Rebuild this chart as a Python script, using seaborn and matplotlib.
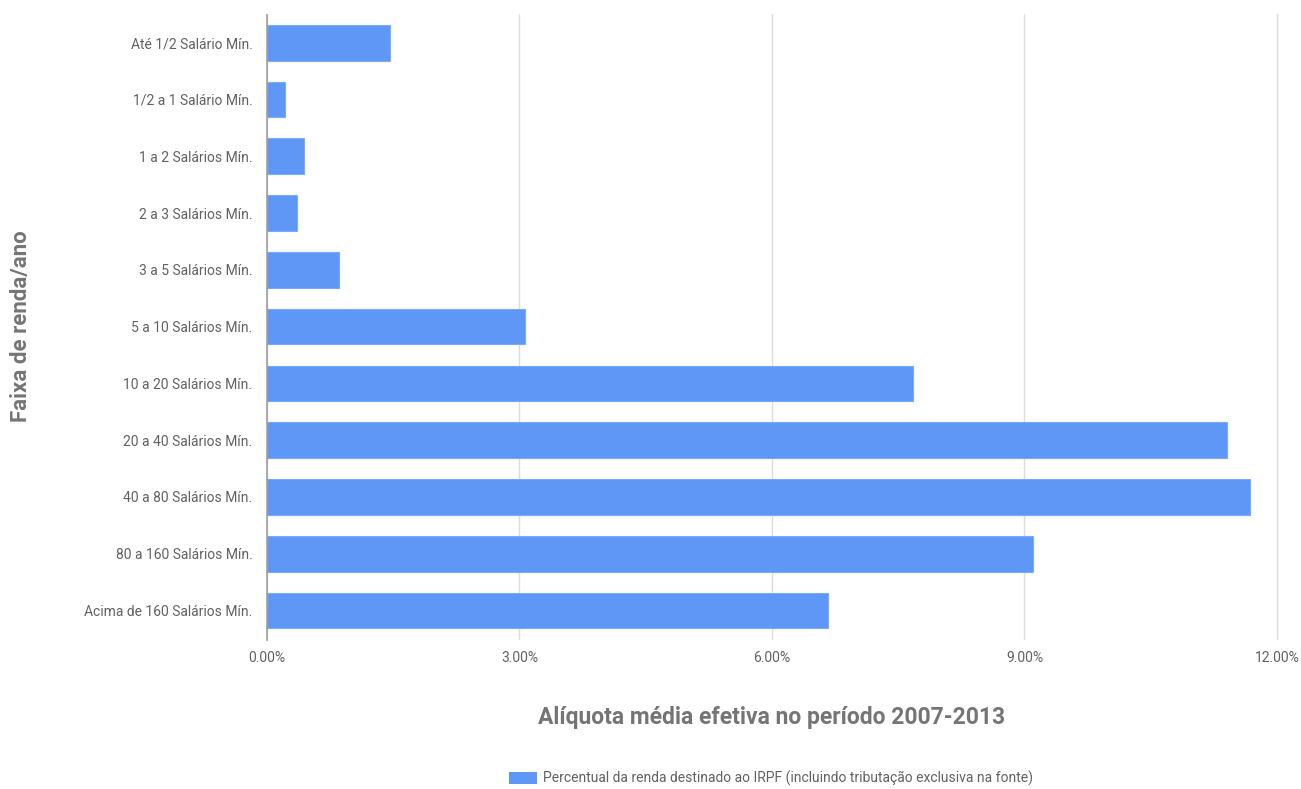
import matplotlib
matplotlib.use("Agg")
import matplotlib.pyplot as plt
import seaborn as sns
import pandas as pd
from matplotlib.patches import Patch
from matplotlib.ticker import FuncFormatter

faixas = [
    "Até 1/2 Salário Mín.",
    "1/2 a 1 Salário Mín.",
    "1 a 2 Salários Mín.",
    "2 a 3 Salários Mín.",
    "3 a 5 Salários Mín.",
    "5 a 10 Salários Mín.",
    "10 a 20 Salários Mín.",
    "20 a 40 Salários Mín.",
    "40 a 80 Salários Mín.",
    "80 a 160 Salários Mín.",
    "Acima de 160 Salários Mín.",
]
aliquota = [1.46, 0.22, 0.44, 0.36, 0.85, 3.07, 7.68, 11.41, 11.68, 9.10, 6.67]
x_ticks = [0, 3, 6, 9, 12]
serie = "Percentual da renda destinado ao IRPF (incluindo tributação exclusiva na fonte)"

sns.set_theme(style="white")
plt.rcParams["font.family"] = ["Roboto", "DejaVu Sans"]

df = pd.DataFrame({"faixa": faixas, "aliquota": aliquota})

blue = "#5e97f5"
fig = plt.figure(figsize=(13.01, 7.89), dpi=100)
ax = fig.add_axes([0.2052, 0.1902, 0.7763, 0.7917])

sns.barplot(data=df, x="aliquota", y="faixa", orient="h", color=blue,
            saturation=1, width=0.63, edgecolor="#7aaaf7", linewidth=0.8, ax=ax)

ax.set_xlim(0, 12)
ax.set_ylim(len(faixas) - 0.5, -0.5)
ax.set_xticks(x_ticks)
ax.xaxis.set_major_formatter(FuncFormatter(lambda v, p: f"{v:.2f}%"))
ax.grid(axis="x", color="#dcdcdc", linewidth=1)
ax.grid(axis="y", visible=False)
ax.set_axisbelow(True)
for gl in ax.get_xgridlines():
    gl.set_clip_on(False)
for s in ["top", "right", "bottom"]:
    ax.spines[s].set_visible(False)
ax.spines["left"].set_color("#9e9e9e")
ax.spines["left"].set_linewidth(1.2)
ax.spines["left"].set_bounds(len(faixas) - 0.5 + 0.02, -0.5 + 0.02)

ax.tick_params(axis="both", length=0, labelsize=10, labelcolor="#616161")
ax.tick_params(axis="y", pad=10.5)
ax.tick_params(axis="x", pad=9)

ax.set_ylabel("Faixa de renda/ano", fontsize=16, fontweight="bold",
              color="#757575")
ax.yaxis.set_label_coords(-0.2325, 0.5)
ax.set_xlabel("Alíquota média efetiva no período 2007-2013", fontsize=16.5,
              fontweight="bold", color="#757575", labelpad=29)

handle = Patch(facecolor=blue, edgecolor="none")
fig.legend([handle], [serie], loc="lower center", bbox_to_anchor=(0.5927, -0.012),
           frameon=False, fontsize=10, labelcolor="#616161",
           handlelength=2.0, handleheight=0.9, handletextpad=0.45)

fig.savefig("out.png", dpi=100)
